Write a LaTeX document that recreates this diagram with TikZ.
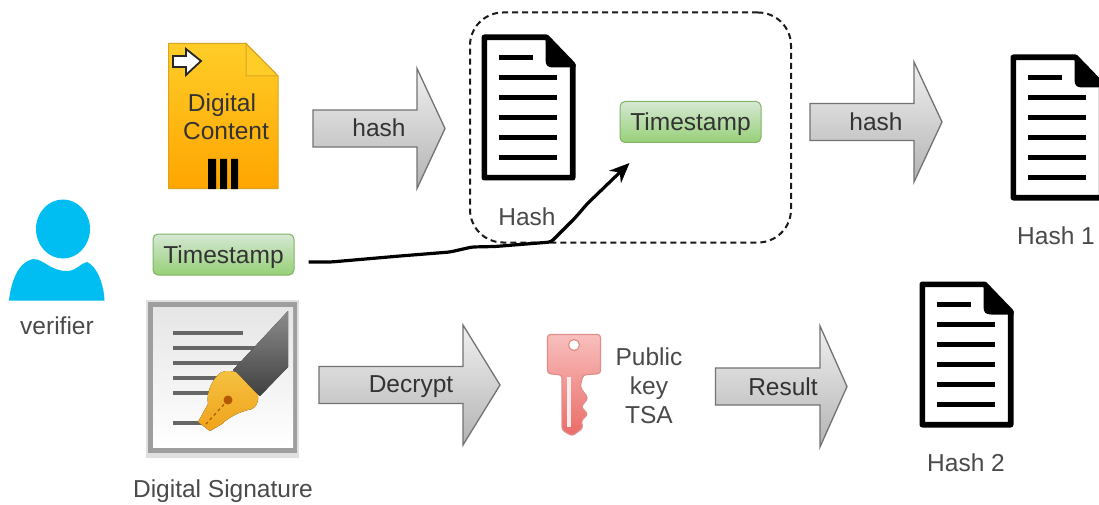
\documentclass[tikz,border=0pt]{standalone}
\usepackage{fontspec}
\setmainfont{Liberation Sans}
\usetikzlibrary{arrows.meta,calc}
\definecolor{txt}{HTML}{333333}
\definecolor{gtxt}{HTML}{4A4A4A}
\definecolor{stampstroke}{HTML}{82B366}
\definecolor{stamptop}{HTML}{D5E8D4}
\definecolor{stampbot}{HTML}{97D077}
\definecolor{arrowtop}{HTML}{F0F0F0}
\definecolor{arrowbot}{HTML}{B3B3B3}
\definecolor{persona}{HTML}{00BEF2}
\definecolor{filetop}{HTML}{FFCD28}
\definecolor{filebot}{HTML}{FFA500}
\definecolor{filestroke}{HTML}{D9A520}
\definecolor{keytop}{HTML}{F8BFBD}
\definecolor{keybot}{HTML}{EA6B66}
\definecolor{keystroke}{HTML}{E08E8A}
\definecolor{nibtop}{HTML}{F5C242}
\definecolor{nibbot}{HTML}{EFA31B}
\tikzset{
 x=1pt,y=-1pt,
 lbl/.style={font=\fontsize{24.5}{28}\selectfont,text=gtxt,inner sep=0pt,align=center},
 arrowlbl/.style={font=\fontsize{24.5}{28}\selectfont,text=txt,inner sep=0pt},
 stamp/.style={draw=stampstroke,rounded corners=5pt,top color=stamptop,bottom color=stampbot,minimum width=141pt,minimum height=41pt,inner sep=0pt,font=\fontsize{24.5}{28}\selectfont,text=txt,line width=1pt,text height=17.5pt,text depth=0pt},
 blockarrow/.style={draw=black!55,line width=1.3pt,top color=arrowtop,bottom color=arrowbot},
}
\newcommand{\docicon}[3]{%
 \begin{scope}[shift={(#1,#2)}]
  \coordinate (#3) at (46,72);
  \draw[line width=5.6pt,fill=white,line join=round] (2.8,2.8) -- (65,2.8) -- (91.2,30) -- (91.2,143.2) -- (2.8,143.2) -- cycle;
  \fill[black] (64,0.5) -- (94,30) -- (94,33) -- (72,33) .. controls (66,33) and (64,31) .. (64,25) -- cycle;
  \foreach \yy/\xx in {23/51,43/75,63/75,83/75,103/75,123/75}
   \draw[line width=5.4pt] (17,\yy) -- (\xx,\yy);
 \end{scope}}
\newcommand{\blockarrow}[7]{%
 \draw[blockarrow] (#2,#5-#6) -- (#3,#5-#6) -- (#3,#5-#7) -- (#4,#5) -- (#3,#5+#7) -- (#3,#5+#6) -- (#2,#5+#6) -- cycle;
 \coordinate (#1) at ({(#2+#3)/2},#5);}
\begin{document}
\begin{tikzpicture}
\useasboundingbox (0,0) rectangle (1099,505);
\fill[white] (0,0) rectangle (1099,505);

% dashed group
\node[draw=black!90,line width=2pt,rounded corners=33pt,minimum width=321pt,minimum height=230pt,inner sep=0pt,dash pattern=on 6pt off 4pt] (group) at (630.5,127.5) {};

% digital content
\path[top color=filetop,bottom color=filebot,draw=filestroke,line width=1pt] (168.5,43.5) -- (246,43.5) -- (278,76) -- (278,188.5) -- (168.5,188.5) -- cycle;
\path[fill=filetop,draw=filestroke,line width=1pt] (246,43.5) -- (278,76) -- (246,76) -- cycle;
\draw[black!85,line width=1.8pt,fill=white,line join=miter] (173,56) -- (186,56) -- (186,49) -- (201,61) -- (186,75) -- (186,67) -- (173,67) -- cycle;
\fill[black] (208,159) rectangle (216,189) (220,159) rectangle (227,189) (231,159) rectangle (238,189);
\node[font=\fontsize{24.5}{28}\selectfont,text=black!80,align=center,inner sep=0pt] (dc) at (226,117) {\hspace*{-8pt}Digital\\Content};

% block arrows
\blockarrow{a1}{313}{417}{445}{128.5}{18.5}{60}
\blockarrow{a2}{810}{914}{942}{122}{18.5}{60}
\blockarrow{a3}{319}{463}{500}{385}{18.5}{60}
\blockarrow{a4}{715.5}{820}{847}{386.5}{18.5}{60.5}
\node[arrowlbl] (l1) at (379,128) {hash};
\node[arrowlbl] (l2) at (876,122) {hash};
\node[arrowlbl] (l3) at (411,387) {Decrypt};
\node[arrowlbl] (l4) at (783,387) {Result};

% documents
\docicon{481.5}{34.5}{d1}
\docicon{1010.5}{54.5}{d2}
\docicon{919.5}{281.5}{d3}
\node[lbl] (hash) at (527,217) {Hash};
\node[lbl] (hash1) at (1056,236) {Hash 1};
\node[lbl] (hash2) at (966,463) {Hash 2};

% timestamps
\node[stamp] (ts1) at (690.5,122) {Timestamp};
\node[stamp] (ts2) at (223.5,254.5) {Timestamp};

% connector
\coordinate (c1) at ($(ts2.east)+(14,7.5)$);
\coordinate (tip) at ($(ts1.south west)+(10,20)$);
\draw[line width=3.2pt,black,-{Stealth[length=20pt,width=17pt]},rounded corners=3pt]
  (c1) -- (331,262) -- (400,256) -- (450,252) -- (472,247) -- (495,246.5) -- (551,242) -- (575,218) -- (587,204) -- (tip);

% verifier
\fill[persona] (63,229) ellipse (27pt and 29.5pt);
\fill[persona] (9,300.5) .. controls (11,282) and (18,262) .. (33,259) .. controls (44,259) and (50,271) .. (67,271) .. controls (76,271) and (81,263) .. (87,262) .. controls (97,266) and (104,285) .. (104.5,300.5) -- cycle;
\node[lbl] (verifier) at (57,326) {verifier};

% signature icon
\fill[black!12] (146,300) rectangle (299,458);
\fill[black!38] (148,302) rectangle (297,453);
\fill[top color=white!90!black,bottom color=white] (153,307) rectangle (293,447);
\foreach \yy/\xx in {333/243,348/262,363/255,378/225,393/215,423/205}
 \draw[line width=3.8pt,black!60] (173,\yy) -- (\xx,\yy);
\fill[top color=black!45,bottom color=black!75] (288,311) -- (288,367) -- (260,396) -- (233,370) -- cycle;
\fill[top color=nibtop,bottom color=nibbot] (220,373) .. controls (228,369) and (232,372) .. (236,372) -- (258,395) .. controls (259,402) and (256,407) .. (252,409) .. controls (238,412) and (228,418) .. (222,424) -- (210,431) -- (198,422) -- (208,404) .. controls (206,392) and (212,380) .. (220,373) -- cycle;
\fill[orange!70!black] (228,400) circle (4.5pt);
\draw[orange!70!black,line width=1.2pt,dashed] (228,400) -- (206,424);
\node[lbl] (sig) at (223,491) {Digital Signature};

% key
\draw[draw=keystroke,line width=1.2pt,top color=keytop,bottom color=keybot,rounded corners=3pt]
 (547.5,334.5) -- (600.5,334.5) -- (600.5,373.5) -- (583,375) -- (580,387) -- (588,398) -- (581,407) -- (588,414) -- (581,421) -- (583,428) -- (572,436) -- (562,430) -- (562,375) -- (547.5,373.5) -- cycle;
\fill[white,draw=keystroke,line width=1.2pt] (574,345) circle (5.5pt);
\fill[white!70!keytop] (567,377) rectangle (571,427);
\node[font=\fontsize{24.5}{29}\selectfont,text=gtxt,align=center,inner sep=0pt] (pk) at (649,386) {Public\\key\\TSA};
\end{tikzpicture}
\end{document}
